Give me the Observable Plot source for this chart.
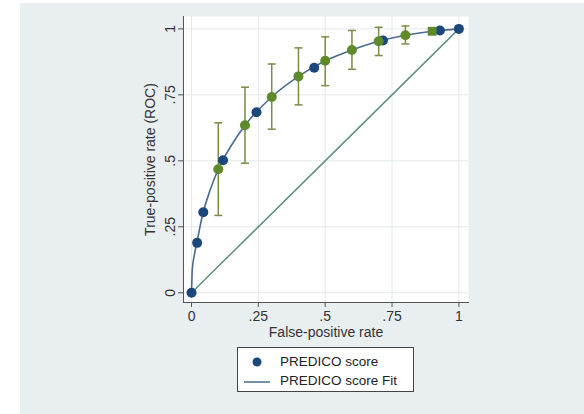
<!DOCTYPE html>
<html>
<head>
<meta charset="utf-8">
<script src="https://cdn.jsdelivr.net/npm/d3@7"></script>
<script src="https://cdn.jsdelivr.net/npm/@observablehq/plot@0.6"></script>
<style>
  html, body { margin: 0; padding: 0; background: #ffffff; }
  #page { position: relative; width: 584px; height: 414px; overflow: hidden; font-family: "Liberation Sans", Arial, sans-serif; }
  #bg { position: absolute; left: 20px; top: 3px; width: 564px; height: 411px; background: #e9eef1; }
  #chart { position: absolute; left: 0; top: 0; }
  #chart svg text { font-size: 14px; fill: #333; }
  #legend { position: absolute; left: 237px; top: 347px; width: 175px; height: 43px; background: #ffffff; border: 1px solid #444; font-size: 13.5px; color: #222; }
  .row { position: absolute; left: 0; height: 18px; line-height: 18px; }
  .row span.t { position: absolute; left: 42px; white-space: nowrap; }
</style>
</head>
<body>
<div id="page">
  <div id="bg"></div>
  <div id="chart"></div>
  <div id="legend">
    <div class="row" style="top:5px;width:175px">
      <svg width="40" height="18" style="position:absolute;left:0;top:0"><circle cx="19" cy="9" r="4.5" fill="#1b477a"></circle></svg>
      <span class="t">PREDICO score</span>
    </div>
    <div class="row" style="top:24px;width:175px">
      <svg width="40" height="18" style="position:absolute;left:0;top:0"><line x1="6" x2="32" y1="10" y2="10" stroke="#4a6a8e" stroke-width="1.5"></line></svg>
      <span class="t">PREDICO score Fit</span>
    </div>
  </div>
</div>
<script>
// Empirical ROC points (PREDICO score)
const empFPR = [0, 0.021, 0.044, 0.118, 0.243, 0.459, 0.716, 0.929, 1];
const empTPR = [0, 0.189, 0.305, 0.502, 0.684, 0.853, 0.956, 0.994, 1];

// Fitted ROC curve
const fitFPR = [0, 0.003, 0.01, 0.02, 0.04, 0.07, 0.1, 0.15, 0.2, 0.3, 0.4, 0.5, 0.6, 0.7, 0.8, 0.9, 1];
const fitTPR = [0, 0.09, 0.14, 0.19, 0.29, 0.39, 0.468, 0.56, 0.635, 0.742, 0.82, 0.879, 0.92, 0.953, 0.976, 0.991, 1];

// Fitted points with confidence intervals
const ciFPR = [0.1, 0.2, 0.3, 0.4, 0.5, 0.6, 0.7, 0.8, 0.9];
const ciTPR = [0.468, 0.635, 0.742, 0.820, 0.879, 0.920, 0.953, 0.976, 0.991];
const ciLo  = [0.293, 0.491, 0.620, 0.712, 0.785, 0.847, 0.899, 0.943, 0.985];
const ciHi  = [0.644, 0.779, 0.867, 0.928, 0.970, 0.994, 1.006, 1.011, 0.997];

// Reference diagonal
const diagX = [0, 1];
const diagY = [0, 1];

const ticks = [0, 0.25, 0.5, 0.75, 1];
const tickLabels = ["0", ".25", ".5", ".75", "1"];

const emp = empFPR.map((x, i) => ({x, y: empTPR[i]}));
const fit = fitFPR.map((x, i) => ({x, y: fitTPR[i]}));
const ci = ciFPR.map((x, i) => ({x, y: ciTPR[i], lo: ciLo[i], hi: ciHi[i]}));
const diag = diagX.map((x, i) => ({x, y: diagY[i]}));

const fmt = d => tickLabels[ticks.indexOf(d)];
const cap = {draw(ctx, size) { const r = Math.sqrt(size / Math.PI); ctx.moveTo(-r, 0); ctx.lineTo(r, 0); }};

const NAVY = "#1b477a", GREEN = "#5f8a2c", BAR = "#7a8c45", FIT = "#4a6a8e", DIAG = "#5f8f86";

const chart = Plot.plot({
  width: 584,
  height: 340,
  marginLeft: 183,
  marginRight: 116,
  marginTop: 16,
  marginBottom: 38,
  style: {background: "transparent", fontFamily: "'Liberation Sans', Arial, sans-serif", fontSize: "14px", color: "#333"},
  x: {domain: [-0.03, 1.036]},
  y: {domain: [-0.037, 1.047]},
  marks: [
    Plot.frame({fill: "#ffffff", stroke: null}),
    Plot.gridX(ticks, {stroke: "#e4e8ea", strokeOpacity: 1}),
    Plot.gridY(ticks, {stroke: "#e4e8ea", strokeOpacity: 1}),
    Plot.frame({anchor: "left", stroke: "#555"}),
    Plot.frame({anchor: "bottom", stroke: "#555"}),
    Plot.axisX(ticks, {tickFormat: fmt, tickSize: 5, tickPadding: 4, stroke: "#555", label: "False-positive rate", labelAnchor: "center", labelOffset: 34, labelArrow: false}),
    Plot.axisY(ticks, {tickFormat: fmt, tickSize: 5, tickPadding: 4, tickRotate: -90, stroke: "#555", label: "True-positive rate (ROC)", labelAnchor: "center", labelOffset: 38, labelArrow: false}),
    Plot.line(diag, {x: "x", y: "y", stroke: DIAG, strokeWidth: 1.5}),
    Plot.line(fit, {x: "x", y: "y", stroke: FIT, strokeWidth: 1.6, curve: "monotone-x"}),
    Plot.ruleX(ci, {x: "x", y1: "lo", y2: "hi", stroke: BAR, strokeWidth: 1.5}),
    Plot.dot(ci, {x: "x", y: "lo", symbol: cap, r: 4, stroke: BAR, strokeWidth: 1.5}),
    Plot.dot(ci, {x: "x", y: "hi", symbol: cap, r: 4, stroke: BAR, strokeWidth: 1.5}),
    Plot.dot(emp, {x: "x", y: "y", r: 5, fill: NAVY, stroke: null}),
    Plot.dot(ci, {x: "x", y: "y", r: 5, fill: GREEN, stroke: null, symbol: d => d.x === 0.9 ? "square" : "circle"})
  ]
});
document.getElementById("chart").appendChild(chart);
</script>
</body>
</html>
